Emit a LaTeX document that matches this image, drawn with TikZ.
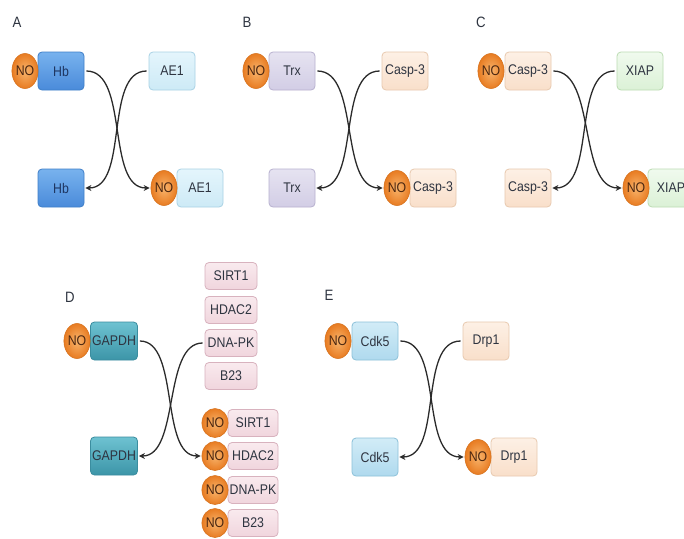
\documentclass[tikz,border=0pt]{standalone}
\usepackage{fontspec}
\setmainfont[FakeStretch=0.88]{Liberation Sans}
\usetikzlibrary{arrows.meta,shapes.geometric}

\definecolor{txt}{HTML}{2E3440}
\definecolor{notxt}{HTML}{4A2610}
\definecolor{lnk}{HTML}{2B2B2B}
\definecolor{hbtxt}{HTML}{1E3560}

\definecolor{nodraw}{HTML}{D7731F}
\definecolor{noin}{HTML}{F8B46C}
\definecolor{noout}{HTML}{E87C22}

\definecolor{hbD}{HTML}{3F7FC8}\definecolor{hbT}{HTML}{78B2EE}\definecolor{hbB}{HTML}{4A8BDA}
\definecolor{aeD}{HTML}{A9D2E5}\definecolor{aeT}{HTML}{E4F5FC}\definecolor{aeB}{HTML}{CDEAF6}
\definecolor{trD}{HTML}{B8B1CF}\definecolor{trT}{HTML}{E6E3F1}\definecolor{trB}{HTML}{D2CDE5}
\definecolor{caD}{HTML}{E8C9AF}\definecolor{caT}{HTML}{FDF0E5}\definecolor{caB}{HTML}{F9DFCA}
\definecolor{xiD}{HTML}{BCDCB3}\definecolor{xiT}{HTML}{F0FAEE}\definecolor{xiB}{HTML}{DBF1D6}
\definecolor{gaD}{HTML}{3B8D9F}\definecolor{gaT}{HTML}{6EC2D1}\definecolor{gaB}{HTML}{3C95A8}
\definecolor{piD}{HTML}{D8B2BE}\definecolor{piT}{HTML}{F9EAEE}\definecolor{piB}{HTML}{F0D5DD}
\definecolor{cdD}{HTML}{8CC1D9}\definecolor{cdT}{HTML}{D2ECF7}\definecolor{cdB}{HTML}{AFD9EE}

\tikzset{
  pbox/.style n args={3}{draw=#1, top color=#2, bottom color=#3,
    rounded corners=4pt, line width=0.8pt, inner sep=0pt,
    minimum width=46pt, minimum height=38pt, text=txt,
    font=\fontsize{14}{16}\selectfont},
  nobal/.style={ellipse, draw=nodraw, line width=0.6pt, inner color=noin,
    outer color=noout, inner sep=0pt, minimum width=25pt,
    minimum height=35pt, text=notxt, font=\fontsize{14}{16}\selectfont},
  nosmall/.style={nobal, minimum width=24pt, minimum height=29pt},
  panel/.style={font=\fontsize{15}{17}\selectfont, text=txt},
  arr/.style={draw=lnk, line width=1.3pt,
    -{Stealth[length=6pt,width=6pt,inset=2pt]},
    shorten <=2pt, shorten >=1pt},
  small/.style={minimum width=52pt, minimum height=27pt},
  smallb/.style={minimum width=50pt, minimum height=27pt},
  bHb/.style={pbox={hbD}{hbT}{hbB}, text=hbtxt},
  bAE/.style={pbox={aeD}{aeT}{aeB}},
  bTr/.style={pbox={trD}{trT}{trB}},
  bCa/.style={pbox={caD}{caT}{caB}},
  bXi/.style={pbox={xiD}{xiT}{xiB}},
  bGa/.style={pbox={gaD}{gaT}{gaB}, minimum width=47pt},
  bPi/.style={pbox={piD}{piT}{piB}},
  bCd/.style={pbox={cdD}{cdT}{cdB}}
}

\begin{document}
\begin{tikzpicture}[x=1pt,y=-1pt]
\useasboundingbox (0,0) rectangle (684,538);
\clip (0,0) rectangle (684,538);
\fill[white] (0,0) rectangle (684,538);

% ---------- A: Hb / AE1 ----------
\node[panel] (lA) at (17,22) {A};
\node[bHb] (hbA1) at (61,71) {Hb};
\node[nobal] (noA1) at (25,71) {NO};
\node[bAE] (aeA1) at (172,71) {AE1};
\node[bHb] (hbA2) at (61,188) {Hb};
\node[bAE] (aeA2) at (200,188) {AE1};
\node[nobal] (noA2) at (164,188) {NO};
\draw[arr] (hbA1.east) .. controls +(45,0) and +(-45,0) .. (noA2.west);
\draw[arr] (aeA1.west) .. controls +(-45,0) and +(45,0) .. (hbA2.east);

% ---------- B: Trx / Casp-3 ----------
\node[panel] (lB) at (247,22) {B};
\node[bTr] (trB1) at (292,71) {Trx};
\node[nobal] (noB1) at (256,71) {NO};
\node[bCa] (caB1) at (405,71) {Casp-3};
\node[bTr] (trB2) at (292,188) {Trx};
\node[bCa] (caB2) at (433,188) {Casp-3};
\node[nobal] (noB2) at (397,188) {NO};
\draw[arr] (trB1.east) .. controls +(45,0) and +(-45,0) .. (noB2.west);
\draw[arr] (caB1.west) .. controls +(-45,0) and +(45,0) .. (trB2.east);

% ---------- C: Casp-3 / XIAP ----------
\node[panel] (lC) at (481,22) {C};
\node[bCa] (caC1) at (528,71) {Casp-3};
\node[nobal] (noC1) at (491,71) {NO};
\node[bXi] (xiC1) at (640,71) {XIAP};
\node[bCa] (caC2) at (528,188) {Casp-3};
\node[bXi] (xiC2) at (671,188) {XIAP};
\node[nobal] (noC2) at (636,188) {NO};
\draw[arr] (caC1.east) .. controls +(45,0) and +(-45,0) .. (noC2.west);
\draw[arr] (xiC1.west) .. controls +(-45,0) and +(45,0) .. (caC2.east);

% ---------- D: GAPDH / nuclear targets ----------
\node[panel] (lD) at (70,297) {D};
\node[bGa] (gaD1) at (114,341) {GAPDH};
\node[nobal] (noD1) at (77,341) {NO};
\node[bGa] (gaD2) at (114,456) {GAPDH};

\node[bPi,small] (siD1) at (231,276) {SIRT1};
\node[bPi,small] (hdD1) at (231,310) {HDAC2};
\node[bPi,small] (dnD1) at (231,343) {DNA-PK};
\node[bPi,small] (bD1)  at (231,376) {B23};

\node[bPi,smallb] (siD2) at (253,423) {SIRT1};
\node[bPi,smallb] (hdD2) at (253,456) {HDAC2};
\node[bPi,smallb] (dnD2) at (253,490) {DNA-PK};
\node[bPi,smallb] (bD2)  at (253,523) {B23};
\node[nosmall] (noS) at (215,423) {NO};
\node[nosmall] (noH) at (215,456) {NO};
\node[nosmall] (noP) at (215,490) {NO};
\node[nosmall] (noB) at (215,523) {NO};

\draw[arr] (gaD1.east) .. controls +(42,0) and +(-42,0) .. (noH.west);
\draw[arr] (dnD1.west) .. controls +(-42,0) and +(42,0) .. (gaD2.east);

% ---------- E: Cdk5 / Drp1 ----------
\node[panel] (lE) at (329,295) {E};
\node[bCd] (cdE1) at (375,341) {Cdk5};
\node[nobal] (noE1) at (338,341) {NO};
\node[bCa] (drE1) at (486,341) {Drp1};
\node[bCd] (cdE2) at (375,457) {Cdk5};
\node[bCa] (drE2) at (514,457) {Drp1};
\node[nobal] (noE2) at (478,457) {NO};
\draw[arr] (cdE1.east) .. controls +(45,0) and +(-45,0) .. (noE2.west);
\draw[arr] (drE1.west) .. controls +(-45,0) and +(45,0) .. (cdE2.east);
\end{tikzpicture}
\end{document}
